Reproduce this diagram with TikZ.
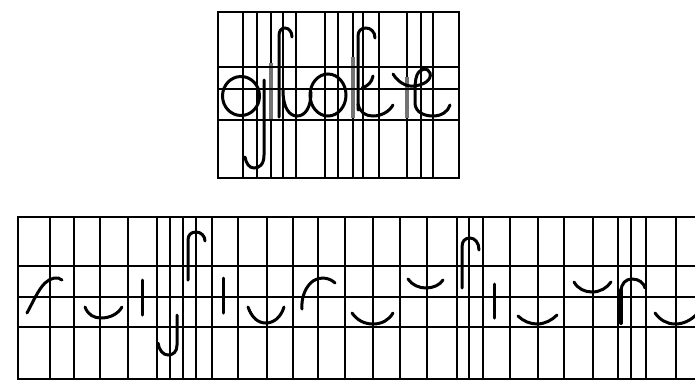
\documentclass[tikz,border=0pt]{standalone}
\usepackage{tikz}

\begin{document}
\begin{tikzpicture}[x=1pt, y=-1pt,
    gridline/.style={line width=1.9pt},
    shade/.style={line width=4.5pt, black!55},
    pen/.style={line width=3pt, line cap=round}]
\useasboundingbox (0,0) rectangle (695,381);

% upper ruled box
\foreach \x in {243,257,271,283,296,325,338,353,363,379,407,421,433}
    \draw[gridline] (\x,12) -- (\x,178);
\draw[shade] (271,63) -- (271,120);
\draw[shade] (353,57) -- (353,118);
\draw[shade] (407,77) -- (407,118);
\foreach \y in {67,89,120}
    \draw[gridline] (218,\y) -- (459,\y);
\draw[gridline] (218,12) rectangle (459,178);

% the written word
\draw[pen] (241,96) circle [x radius=18.5, y radius=19.5];
\draw[pen] (264,80) -- (264,155) .. controls (264,165) and (259,168) .. (254,168)
    .. controls (249,168) and (246,163) .. (245,157);
\draw[pen] (279,117) -- (279,36) .. controls (279,31) and (281,28) .. (285,28)
    .. controls (289,28) and (292,32) .. (292,37);
\draw[pen] (283,90) .. controls (283,109) and (290,116) .. (297,116)
    .. controls (305,116) and (311,108) .. (311,92);
\draw[pen] (328,95) circle [x radius=18, y radius=21];
\draw[pen] (358,110) -- (358,36) .. controls (358,31) and (361,28) .. (366,28)
    .. controls (371,28) and (375,32) .. (375,38);
\draw[pen] (358,104) .. controls (360,113) and (366,116) .. (373,116)
    .. controls (381,116) and (389,112) .. (393,105);
\draw[pen] (362,88) .. controls (368,86) and (372,82) .. (373,76);
\draw[pen] (393,74) .. controls (398,82) and (406,87) .. (414,86)
    .. controls (424,85) and (432,80) .. (430,73)
    .. controls (428,67) and (420,68) .. (417,75)
    .. controls (415,80) and (415,86) .. (415,95) -- (415,104)
    .. controls (416,113) and (425,116) .. (433,116)
    .. controls (441,116) and (448,112) .. (450,105);

% lower ruled strip
\foreach \x in {50,74,100,128,157,170,183,196,212,238,267,293,318,345,373,
               400,427,457,469,483,510,538,564,593,618,631,646,676}
    \draw[gridline] (\x,217) -- (\x,379);
\foreach \y in {266,297,327}
    \draw[gridline] (18,\y) -- (700,\y);
\draw[gridline] (700,217) -- (18,217) -- (18,379) -- (700,379);

% the strokes one by one
\draw[pen] (27,313) .. controls (33,302) and (38,290) .. (45,283)
    .. controls (50,278) and (58,276) .. (62,280);
\draw[pen] (85,307) .. controls (88,315) and (94,318) .. (101,318)
    .. controls (110,318) and (118,314) .. (122,307);
\draw[pen] (142,280) -- (142,315);
\draw[pen] (177,315) -- (177,345) .. controls (177,352) and (173,355) .. (168,355)
    .. controls (163,355) and (159,350) .. (158,343);
\draw[pen] (188,280) -- (188,240) .. controls (188,235) and (191,232) .. (196,232)
    .. controls (201,232) and (205,236) .. (205,241);
\draw[pen] (223,278) -- (223,313);
\draw[pen] (248,307) .. controls (252,318) and (258,323) .. (266,323)
    .. controls (274,323) and (281,317) .. (284,307);
\draw[pen] (302,309) .. controls (301,297) and (306,286) .. (313,281)
    .. controls (321,276) and (330,278) .. (335,283);
\draw[pen] (352,313) .. controls (357,320) and (364,324) .. (373,324)
    .. controls (382,324) and (389,320) .. (393,313);
\draw[pen] (408,279) .. controls (412,285) and (419,288) .. (426,288)
    .. controls (433,288) and (440,285) .. (443,280);
\draw[pen] (462,288) -- (462,247) .. controls (462,241) and (465,238) .. (470,238)
    .. controls (475,238) and (479,243) .. (479,250);
\draw[pen] (494,284) -- (494,318);
\draw[pen] (518,316) .. controls (523,321) and (530,324) .. (537,324)
    .. controls (545,324) and (552,320) .. (557,315);
\draw[pen] (574,282) .. controls (578,289) and (585,292) .. (592,292)
    .. controls (600,292) and (607,288) .. (611,282);
\draw[pen, line width=4pt] (621,323) -- (621,290);
\draw[pen] (621,292) .. controls (621,283) and (626,279) .. (632,279)
    .. controls (639,279) and (644,283) .. (645,288);
\draw[pen] (655,313) .. controls (660,320) and (667,324) .. (675,324)
    .. controls (684,324) and (691,320) .. (697,314);
\end{tikzpicture}
\end{document}
